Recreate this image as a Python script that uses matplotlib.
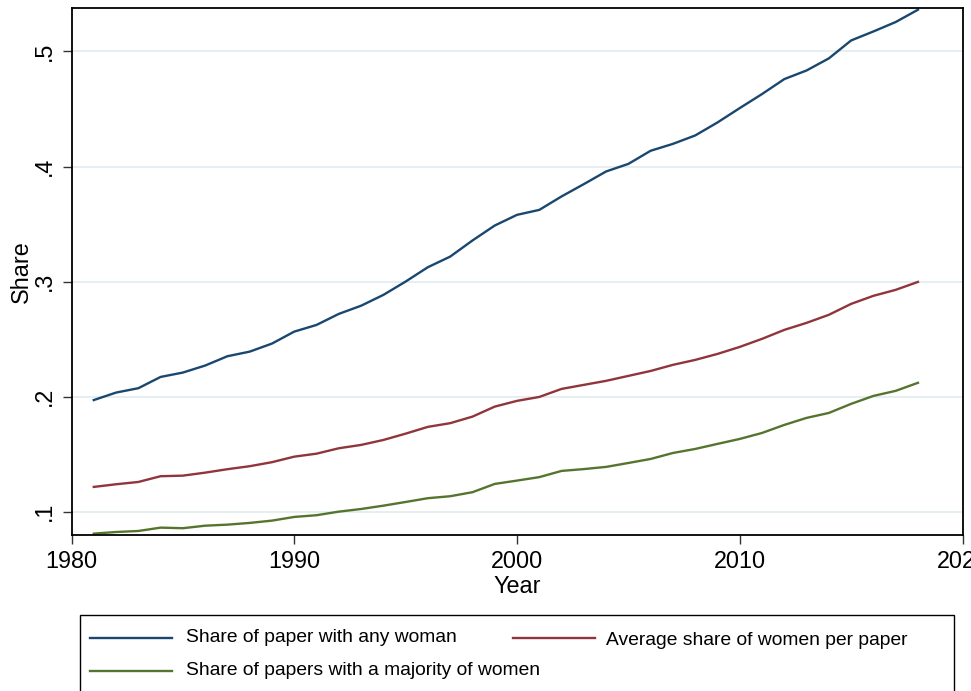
import matplotlib
matplotlib.use("Agg")
import matplotlib.pyplot as plt
from matplotlib.lines import Line2D
from matplotlib.patches import Rectangle

plt.rcParams['font.family'] = ['Liberation Sans', 'DejaVu Sans']

years = list(range(1981, 2019))

any_woman = [0.197, 0.2035, 0.2073, 0.2171, 0.2209, 0.227, 0.2351, 0.2391, 0.2461, 0.2565,
             0.2623, 0.2719, 0.279, 0.2884, 0.300, 0.3125, 0.3217, 0.3357, 0.3487, 0.358,
             0.3623, 0.374, 0.3847, 0.3957, 0.4023, 0.4137, 0.4197, 0.427, 0.4383, 0.4508,
             0.463, 0.476, 0.4835, 0.494, 0.5096, 0.5174, 0.5256, 0.5363]

avg_share = [0.1215, 0.1238, 0.1258, 0.1308, 0.1313, 0.1339, 0.1369, 0.1395, 0.143, 0.1478,
             0.1504, 0.1551, 0.158, 0.1623, 0.1678, 0.1737, 0.1769, 0.1826, 0.1913, 0.1963,
             0.1997, 0.2067, 0.2102, 0.2137, 0.218, 0.2223, 0.2276, 0.2319, 0.2371, 0.2432,
             0.2502, 0.258, 0.2641, 0.2711, 0.2806, 0.2876, 0.2928, 0.2997]

majority = [0.0809, 0.0823, 0.0832, 0.0861, 0.0856, 0.0878, 0.0887, 0.0902, 0.0922, 0.0954,
            0.0969, 0.100, 0.1023, 0.1052, 0.1084, 0.1117, 0.1134, 0.1169, 0.1241, 0.127,
            0.130, 0.1354, 0.137, 0.1389, 0.1423, 0.1458, 0.151, 0.1545, 0.1589, 0.1632,
            0.1684, 0.1754, 0.1815, 0.1858, 0.1937, 0.2006, 0.205, 0.212]

labels = ["Share of paper with any woman",
          "Average share of women per paper",
          "Share of papers with a majority of women"]
colors = ["#1a476f", "#90353b", "#55752f"]

xticks = [1980, 1990, 2000, 2010, 2020]
yticks = [0.1, 0.2, 0.3, 0.4, 0.5]
yticklabels = [".1", ".2", ".3", ".4", ".5"]

W, H = 971, 691
fig = plt.figure(figsize=(W / 100, H / 100), dpi=100)
fig.patch.set_facecolor("white")


def fx(px):
    return px / W


def fy(py):
    return 1 - py / H


left, right, top, bottom = 71.5, 962.5, 8, 535
ax = fig.add_axes([fx(left), fy(bottom), fx(right - left), (bottom - top) / H])

for vals, col in zip([any_woman, avg_share, majority], colors):
    ax.plot(years, vals, color=col, lw=1.7, solid_joinstyle="round")

ax.set_xlim(1980, 2020)
ax.set_ylim(0.0797, 0.5378)
ax.set_xticks(xticks)
ax.set_yticks(yticks)
ax.set_yticklabels(yticklabels, rotation=90, va="center")
ax.grid(axis="y", color="#e5eef2", lw=1.4)
ax.set_axisbelow(True)
for s in ax.spines.values():
    s.set_color("black")
    s.set_linewidth(1.3)
ax.tick_params(axis="both", direction="out", length=6.5, width=1.0,
               labelsize=16.8, color="#333333")
ax.tick_params(axis="x", pad=4.6)
ax.tick_params(axis="y", pad=5)
for lab in ax.get_xticklabels():
    lab.set_clip_on(False)

fig.text(fx(517), fy(593), "Year", ha="center", va="baseline", fontsize=16.8)
fig.text(fx(28), fy(271.5), "Share", ha="center", va="baseline", rotation=90,
         rotation_mode="anchor", fontsize=16.8)

# legend box, running past the lower edge of the canvas
box = Rectangle((fx(80), fy(700)), fx(954) - fx(80), fy(615) - fy(700),
                transform=fig.transFigure, fill=False, edgecolor="black", lw=1.0)
fig.add_artist(box)

entries = [
    (90, 172, 637.5, 186, 637.5),
    (513, 595, 637.5, 606, 640.5),
    (90, 172, 670.5, 186, 670.5),
]
for (x0, x1, ly, tx, ty), lab, col in zip(entries, labels, colors):
    fig.add_artist(Line2D([fx(x0), fx(x1)], [fy(ly), fy(ly)], transform=fig.transFigure,
                          color=col, lw=1.7))
    fig.text(fx(tx), fy(ty), lab, ha="left", va="center", fontsize=13.9)

fig.savefig("out.png", dpi=100)
